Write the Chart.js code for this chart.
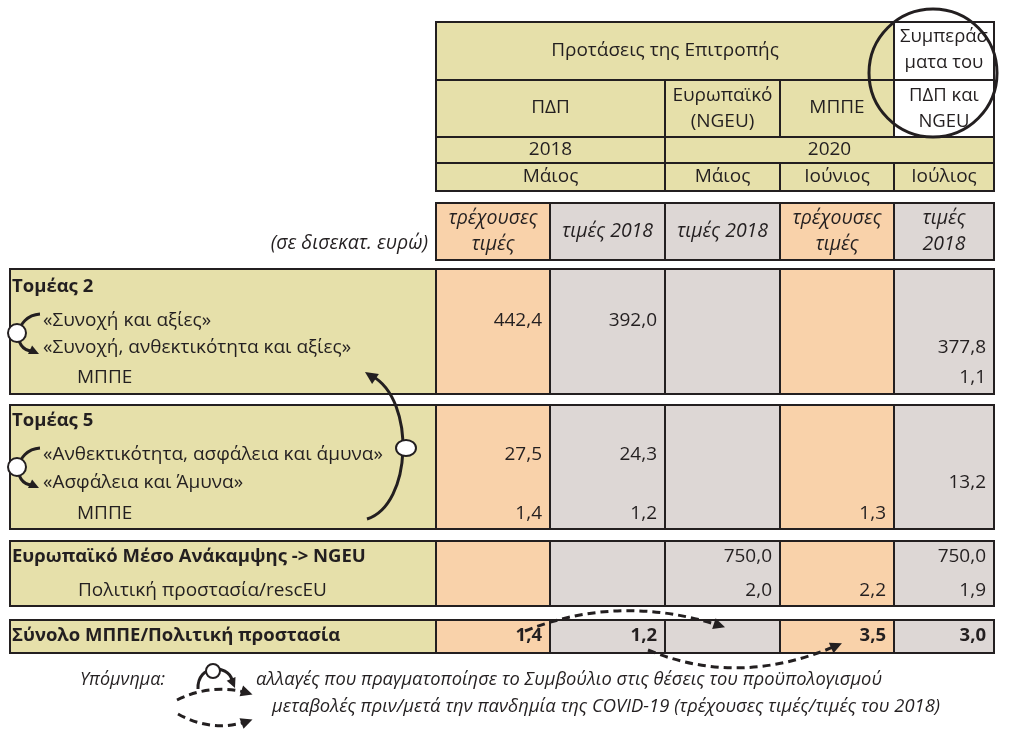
<!DOCTYPE html>
<html>
<head>
<meta charset="utf-8">
<script src="https://cdn.jsdelivr.net/npm/chart.js@4.4.1/dist/chart.umd.min.js"></script>
<style>
  html, body { margin: 0; padding: 0; background: #ffffff; }
  #wrap { width: 1024px; height: 738px; }
</style>
</head>
<body>
<div id="wrap"><canvas id="chart"></canvas></div>
<script>
// --- data ---
const headTitle = 'Προτάσεις της Επιτροπής';
const headConclusion = ['Συμπεράσ', 'ματα του', 'ΠΔΠ και', 'NGEU'];
const headSources = [['ΠΔΠ'], ['Ευρωπαϊκό', '(NGEU)'], ['ΜΠΠΕ']];
const headYears = ['2018', '2020'];
const headMonths = ['Μάιος', 'Μάιος', 'Ιούνιος', 'Ιούλιος'];
const unitNote = '(σε δισεκατ. ευρώ)';
const priceLabels = [['τρέχουσες', 'τιμές'], ['τιμές 2018'], ['τιμές 2018'], ['τρέχουσες', 'τιμές'], ['τιμές', '2018']];

const rowLabels = [
  'Τομέας 2',
  '«Συνοχή και αξίες»',
  '«Συνοχή, ανθεκτικότητα και αξίες»',
  'ΜΠΠΕ',
  'Τομέας 5',
  '«Ανθεκτικότητα, ασφάλεια και άμυνα»',
  '«Ασφάλεια και Άμυνα»',
  'ΜΠΠΕ',
  'Ευρωπαϊκό Μέσο Ανάκαμψης -> NGEU',
  'Πολιτική προστασία/rescEU',
  'Σύνολο ΜΠΠΕ/Πολιτική προστασία'
];
const pdpCurrent    = [null, 442.4, null, null, null, 27.5, null, 1.4, null, null, 1.4];
const pdp2018       = [null, 392.0, null, null, null, 24.3, null, 1.2, null, null, 1.2];
const ngeu2018      = [null, null, null, null, null, null, null, null, 750.0, 2.0, null];
const mppeCurrent   = [null, null, null, null, null, null, null, 1.3, null, 2.2, 3.5];
const council2018   = [null, null, 377.8, 1.1, null, null, 13.2, null, 750.0, 1.9, 3.0];

const legendTitle = 'Υπόμνημα:';
const legendItems = [
  'αλλαγές που πραγματοποίησε το Συμβούλιο στις θέσεις του προϋπολογισμού',
  'μεταβολές πριν/μετά την πανδημία της COVID-19 (τρέχουσες τιμές/τιμές του 2018)'
];

// --- layout & style ---
const KHAKI = '#E6E0AA';
const PEACH = '#F9D2AA';
const GREY = '#DDD7D5';
const INK = '#231F20';
const FONT = '"Open Sans", "Noto Sans", sans-serif';
const colEdges = [436, 550, 665, 780, 894, 994];
const colFills = [PEACH, GREY, GREY, PEACH, GREY];
const rowY = [287, 321, 348, 378, 421, 455, 483, 514, 557, 591, 636];
const rowIndent = [12, 43, 43, 77, 12, 43, 43, 77, 12, 78, 12];
const labelBold = [true, false, false, false, true, false, false, false, true, false, true];
const valueBold = [false, false, false, false, false, false, false, false, false, false, true];
const sections = [[269, 394], [405, 529], [541, 606], [620, 653]];
const series = [pdpCurrent, pdp2018, ngeu2018, mppeCurrent, council2018];

const fmt = v => v.toFixed(1).replace('.', ',');

const tablePlugin = {
  id: 'tableDraw',
  afterDraw(chart) {
    const ctx = chart.ctx;
    const X = v => chart.scales.x.getPixelForValue(v);
    const Y = v => chart.scales.y.getPixelForValue(v);

    const text = (str, x, y, opt = {}) => {
      ctx.save();
      ctx.font = opt.font || '19px ' + FONT;
      ctx.fillStyle = INK;
      ctx.textBaseline = 'middle';
      ctx.textAlign = opt.align || 'left';
      if (opt.fit) {
        const w = ctx.measureText(str).width;
        ctx.translate(X(x), Y(y));
        ctx.scale(opt.fit / w, 1);
        ctx.textAlign = 'left';
        ctx.fillText(str, 0, 0);
      } else if (opt.maxWidth) {
        ctx.fillText(str, X(x), Y(y), opt.maxWidth);
      } else {
        ctx.fillText(str, X(x), Y(y));
      }
      ctx.restore();
    };
    const cell = (x0, x1, y0, y1, fill) => {
      ctx.save();
      ctx.fillStyle = fill;
      ctx.fillRect(X(x0), Y(y0), X(x1) - X(x0), Y(y1) - Y(y0));
      ctx.lineWidth = 2;
      ctx.strokeStyle = INK;
      ctx.strokeRect(X(x0), Y(y0), X(x1) - X(x0), Y(y1) - Y(y0));
      ctx.restore();
    };
    const mid = (a, b) => (a + b) / 2;
    const E = colEdges;

    // header block
    cell(E[0], E[4], 22, 80, KHAKI);
    cell(E[4], E[5], 22, 80, '#ffffff');
    cell(E[0], E[2], 80, 137, KHAKI);
    cell(E[2], E[3], 80, 137, KHAKI);
    cell(E[3], E[4], 80, 137, KHAKI);
    cell(E[4], E[5], 80, 137, '#ffffff');
    cell(E[0], E[2], 137, 163, KHAKI);
    cell(E[2], E[5], 137, 163, KHAKI);
    cell(E[0], E[2], 163, 191, KHAKI);
    cell(E[2], E[3], 163, 191, KHAKI);
    cell(E[3], E[4], 163, 191, KHAKI);
    cell(E[4], E[5], 163, 191, KHAKI);

    const hf = '19px ' + FONT;
    text(headTitle, mid(E[0], E[4]), 51, { align: 'center', font: hf });
    headConclusion.forEach((t, i) => text(t, mid(E[4], E[5]), [37, 63, 96, 122][i], { align: 'center', font: '18.5px ' + FONT, maxWidth: 91 }));
    text(headSources[0][0], mid(E[0], E[2]), 108, { align: 'center', font: hf });
    text(headSources[1][0], mid(E[2], E[3]), 96, { align: 'center', font: hf });
    text(headSources[1][1], mid(E[2], E[3]), 122, { align: 'center', font: hf });
    text(headSources[2][0], mid(E[3], E[4]), 108, { align: 'center', font: hf });
    text(headYears[0], mid(E[0], E[2]), 150, { align: 'center', font: hf });
    text(headYears[1], mid(E[2], E[5]), 150, { align: 'center', font: hf });
    const monthCols = [[E[0], E[2]], [E[2], E[3]], [E[3], E[4]], [E[4], E[5]]];
    headMonths.forEach((t, i) => text(t, mid(...monthCols[i]), 177, { align: 'center', font: hf }));

    // price basis row
    const itf = 'italic 19.5px ' + FONT;
    priceLabels.forEach((lines, i) => {
      cell(E[i], E[i + 1], 203, 260, colFills[i]);
      const ys = lines.length === 2 ? [218, 244] : [231];
      lines.forEach((t, k) => text(t, mid(E[i], E[i + 1]), ys[k], { align: 'center', font: itf }));
    });
    text(unitNote, 428, 243, { align: 'right', font: itf });

    // section boxes
    sections.forEach(([y0, y1]) => {
      ctx.save();
      ctx.fillStyle = KHAKI;
      ctx.fillRect(X(10), Y(y0), X(E[0]) - X(10), Y(y1) - Y(y0));
      colFills.forEach((f, i) => {
        ctx.fillStyle = f;
        ctx.fillRect(X(E[i]), Y(y0), X(E[i + 1]) - X(E[i]), Y(y1) - Y(y0));
      });
      ctx.lineWidth = 2;
      ctx.strokeStyle = INK;
      ctx.strokeRect(X(10), Y(y0), X(E[5]) - X(10), Y(y1) - Y(y0));
      ctx.beginPath();
      E.slice(0, 5).forEach(x => { ctx.moveTo(X(x), Y(y0)); ctx.lineTo(X(x), Y(y1)); });
      ctx.stroke();
      ctx.restore();
    });

    // row labels and values
    rowLabels.forEach((t, r) => {
      const lf = labelBold[r] ? 'bold 18.5px ' + FONT : '19px ' + FONT;
      const vf = valueBold[r] ? 'bold 18.5px ' + FONT : '19px ' + FONT;
      text(t, rowIndent[r], rowY[r], { font: lf });
      series.forEach((s, c) => {
        if (s[r] !== null) {
          text(fmt(s[r]), E[c + 1] - 8, rowY[r], { align: 'right', font: vf });
        }
      });
    });

    // annotation helpers
    const arrowHead = (fromX, fromY, toX, toY, size) => {
      const a = Math.atan2(Y(toY) - Y(fromY), X(toX) - X(fromX));
      ctx.beginPath();
      ctx.moveTo(X(toX), Y(toY));
      ctx.lineTo(X(toX) - size * Math.cos(a - 0.45), Y(toY) - size * Math.sin(a - 0.45));
      ctx.lineTo(X(toX) - size * Math.cos(a + 0.45), Y(toY) - size * Math.sin(a + 0.45));
      ctx.closePath();
      ctx.fill();
    };
    const ring = (x, y, rx, ry) => {
      ctx.beginPath();
      ctx.ellipse(X(x), Y(y), rx, ry, 0, 0, Math.PI * 2);
      ctx.fillStyle = '#ffffff';
      ctx.fill();
      ctx.lineWidth = 2;
      ctx.stroke();
      ctx.fillStyle = INK;
    };
    const loop = (dy) => {
      ctx.lineWidth = 3;
      ctx.beginPath();
      ctx.moveTo(X(40), Y(314 + dy));
      ctx.bezierCurveTo(X(14), Y(316 + dy), X(12), Y(350 + dy), X(32), Y(351 + dy));
      ctx.stroke();
      arrowHead(22, 346 + dy, 39, 354 + dy, 11);
      ring(17, 333 + dy, 9, 9);
    };
    const dashedArc = (x0, y0, cx, cy, x1, y1) => {
      ctx.save();
      ctx.setLineDash([8, 5]);
      ctx.lineWidth = 3;
      ctx.beginPath();
      ctx.moveTo(X(x0), Y(y0));
      ctx.quadraticCurveTo(X(cx), Y(cy), X(x1), Y(y1));
      ctx.stroke();
      ctx.restore();
      arrowHead(cx, cy, x1 + (x1 - cx) * 0.04, y1 + (y1 - cy) * 0.04, 13);
    };

    ctx.save();
    ctx.strokeStyle = INK;
    ctx.fillStyle = INK;
    ctx.lineWidth = 3;

    // conclusions circle
    ctx.beginPath();
    ctx.arc(X(933), Y(73), 64, 0, Math.PI * 2);
    ctx.stroke();

    // council changes: renamed headings
    loop(0);
    loop(134);

    // big arrow from heading 5 to heading 2
    ctx.lineWidth = 3;
    ctx.beginPath();
    ctx.moveTo(X(367), Y(519));
    ctx.bezierCurveTo(X(412), Y(505), X(416), Y(400), X(372), Y(376));
    ctx.stroke();
    arrowHead(380, 382, 365, 372, 14);
    ring(406, 448, 10, 8);

    // before/after pandemic arrows
    dashedArc(525, 631, 620, 593, 721, 626);
    dashedArc(648, 650, 740, 688, 838, 645);

    // legend
    const lf = 'italic 19px ' + FONT;
    text(legendTitle, 80, 680, { font: lf, fit: 85 });
    text(legendItems[0], 256, 680, { font: lf, fit: 626 });
    text(legendItems[1], 272, 707, { font: lf, fit: 668 });
    ctx.lineWidth = 3;
    ctx.beginPath();
    ctx.moveTo(X(198), Y(689));
    ctx.bezierCurveTo(X(197), Y(664), X(228), Y(664), X(232), Y(680));
    ctx.stroke();
    arrowHead(229, 674, 235, 688, 11);
    ring(213, 671, 7, 7);
    dashedArc(177, 700, 214, 682, 251, 694);
    dashedArc(178, 714, 214, 734, 251, 720);
    ctx.restore();
  }
};

new Chart(document.getElementById('chart'), {
  type: 'scatter',
  data: { datasets: [] },
  options: {
    responsive: true,
    maintainAspectRatio: false,
    animation: false,
    layout: { padding: 0 },
    plugins: { legend: { display: false }, tooltip: { enabled: false } },
    scales: {
      x: { type: 'linear', min: 0, max: 1024, display: false },
      y: { type: 'linear', min: 0, max: 738, reverse: true, display: false }
    }
  },
  plugins: [tablePlugin]
});
</script>
</body>
</html>
